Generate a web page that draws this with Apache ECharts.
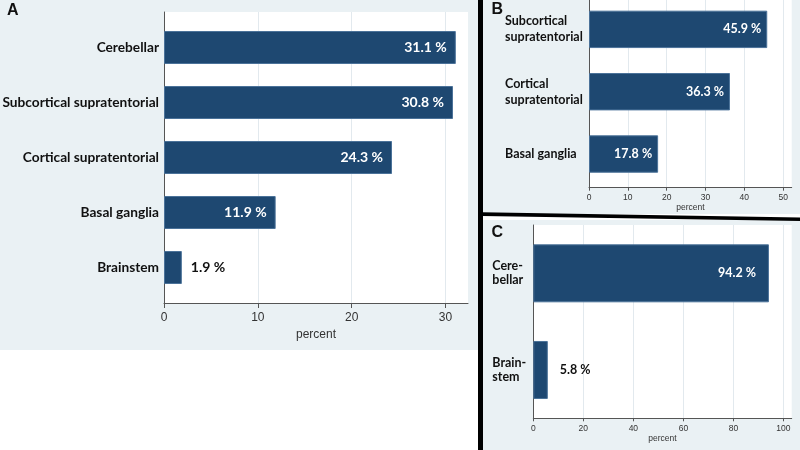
<!DOCTYPE html>
<html><head><meta charset="utf-8">
<script src="https://cdn.jsdelivr.net/npm/echarts@6/dist/echarts.min.js"></script>
<style>html,body{margin:0;padding:0;background:#fff}#c{width:800px;height:450px}</style>
</head><body><div id="c"></div>
<script>
const categoriesA = ['Cerebellar', 'Subcortical supratentorial', 'Cortical supratentorial', 'Basal ganglia', 'Brainstem'];
const valuesA = [31.1, 30.8, 24.3, 11.9, 1.9];
const ticksA = [0, 10, 20, 30];
const categoriesB = ['Subcortical\nsupratentorial', 'Cortical\nsupratentorial', 'Basal ganglia'];
const valuesB = [45.9, 36.3, 17.8];
const ticksB = [0, 10, 20, 30, 40, 50];
const categoriesC = ['Cere-\nbellar', 'Brain-\nstem'];
const valuesC = [94.2, 5.8];
const ticksC = [0, 20, 40, 60, 80, 100];
const panelTitles = ['A', 'B', 'C'];
const axisName = 'percent';

const BAR = '#1e4871', BG = '#eaf1f4', GRIDC = '#e2e9ee', AX = '#555';
const LABF = 'Lato, "Open Sans", sans-serif';
const TICKF = '"Liberation Sans", Arial, sans-serif';

function makeData(vals, outDist) {
  return vals.map(v => v < 10 ? { value: v, label: { position: 'right', color: '#111', distance: outDist } } : v);
}
function valueAxis(grid, max, interval, ticks, fs, margin, tickLen, nameGap) {
  return {
    gridIndex: grid, type: 'value', min: 0, max: max, interval: interval,
    axisLine: { show: true, lineStyle: { color: AX, width: 1 } },
    axisTick: { show: true, length: tickLen, customValues: ticks, lineStyle: { color: AX } },
    axisLabel: { customValues: ticks, fontSize: fs, color: '#333', margin: margin, fontFamily: TICKF },
    splitLine: { show: true, lineStyle: { color: GRIDC, width: 1 } },
    name: axisName, nameLocation: 'middle', nameGap: nameGap,
    nameTextStyle: { fontSize: fs, color: '#333', fontFamily: TICKF }
  };
}
function hiddenX(grid, max) { return { gridIndex: grid, type: 'value', min: 0, max: max, show: false }; }
function frameY(grid) {
  return { gridIndex: grid, type: 'value', min: 0, max: 1,
    axisLine: { show: true, lineStyle: { color: AX } }, axisTick: { show: false },
    axisLabel: { show: false }, splitLine: { show: false } };
}
function barSeries(xi, yi, data, fs, inDist) {
  return {
    type: 'bar', xAxisIndex: xi, yAxisIndex: yi, data: data, barWidth: '60%',
    itemStyle: { color: BAR, borderColor: '#4b7299', borderWidth: 1 },
    label: { show: true, position: 'insideRight', distance: inDist, formatter: '{c} %',
      color: '#fff', fontWeight: 'bold', fontSize: fs, fontFamily: LABF }
  };
}
const titleStyle = { fontSize: 16, fontWeight: 'bold', fontFamily: TICKF, color: '#111' };
const G = { outerBoundsMode: 'none', containLabel: false };

const chart = echarts.init(document.getElementById('c'), null, { renderer: 'canvas' });
chart.setOption({
  animation: false,
  backgroundColor: '#fff',
  title: [
    { text: panelTitles[0], left: 7, top: 3, padding: 0, textStyle: titleStyle },
    { text: panelTitles[1], left: 491.5, top: 2, padding: 0, textStyle: titleStyle },
    { text: panelTitles[2], left: 491.5, top: 225, padding: 0, textStyle: titleStyle }
  ],
  graphic: [
    { type: 'rect', z: -10, shape: { x: 0, y: 0, width: 479, height: 350 }, style: { fill: BG } },
    { type: 'rect', z: -10, shape: { x: 482, y: 0, width: 318, height: 214 }, style: { fill: BG } },
    { type: 'rect', z: -10, shape: { x: 482, y: 220, width: 318, height: 230 }, style: { fill: BG } },
    { type: 'rect', z: 100, shape: { x: 478, y: 0, width: 5, height: 450 }, style: { fill: '#000' } },
    { type: 'polygon', z: 100, shape: { points: [[482, 212.3], [800, 217.6], [800, 221], [482, 215.9]] }, style: { fill: '#000' } }
  ],
  grid: [
    Object.assign({ left: 164, top: 12, width: 304, height: 291, show: true, backgroundColor: '#fff', borderWidth: 0 }, G),
    Object.assign({ left: 164, top: 20, width: 304, height: 275 }, G),
    Object.assign({ left: 589, top: 0, width: 202.7, height: 187.7, show: true, backgroundColor: '#fff', borderWidth: 0 }, G),
    Object.assign({ left: 589, top: -1.8, width: 202.7, height: 187 }, G),
    Object.assign({ left: 533.3, top: 225, width: 258.4, height: 193.3, show: true, backgroundColor: '#fff', borderWidth: 0 }, G)
  ],
  xAxis: [
    valueAxis(0, 32.4, 10, ticksA, 12, 9, 5, 21),
    hiddenX(1, 32.4),
    valueAxis(2, 52.2, 10, ticksB, 8.5, 5.5, 3, 15),
    hiddenX(3, 52.2),
    valueAxis(4, 103.3, 20, ticksC, 8.5, 5.5, 3, 15)
  ],
  yAxis: [
    frameY(0),
    { gridIndex: 1, type: 'category', inverse: true, data: categoriesA,
      axisLine: { show: false }, axisTick: { show: false },
      axisLabel: { fontSize: 13.7, fontWeight: 'bold', fontFamily: LABF, color: '#111', margin: 5 } },
    frameY(2),
    { gridIndex: 3, type: 'category', inverse: true, data: categoriesB,
      axisLine: { show: false }, axisTick: { show: false },
      axisLabel: { align: 'left', margin: 84, fontSize: 12.5, lineHeight: 16, fontWeight: 'bold', fontFamily: LABF, color: '#111' } },
    { gridIndex: 4, type: 'category', inverse: true, data: categoriesC,
      axisLine: { show: true, lineStyle: { color: AX } }, axisTick: { show: false },
      axisLabel: { align: 'left', margin: 41, fontSize: 12.5, lineHeight: 14, fontWeight: 'bold', fontFamily: LABF, color: '#111' } }
  ],
  series: [
    barSeries(1, 1, makeData(valuesA, 9), 14, 9),
    barSeries(3, 3, makeData(valuesB, 9), 12.5, 6),
    barSeries(4, 4, makeData(valuesC, 12), 12.5, 13)
  ]
});
</script></body></html>
